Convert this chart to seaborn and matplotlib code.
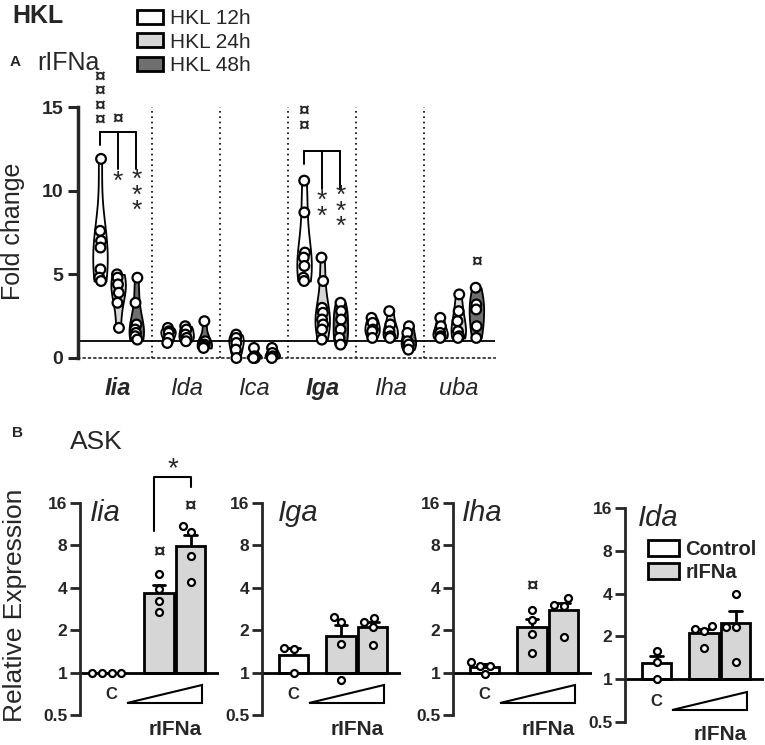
import numpy as np
import pandas as pd
import matplotlib
matplotlib.use("Agg")
import matplotlib.pyplot as plt
from matplotlib.patches import Patch
import seaborn as sns

# ---- panel A: fold change (HKL stimulation, rIFNa) ----
genes_a = ["Iia", "Ida", "Ica", "Iga", "Iha", "uba"]
times = ["HKL 12h", "HKL 24h", "HKL 48h"]
time_colors = ["#ffffff", "#d6d6d6", "#6f6f6f"]

iia_12 = [11.9, 7.6, 7.0, 6.6, 5.3, 4.8, 4.6]
iia_24 = [5.0, 4.8, 4.4, 3.9, 3.3, 1.8]
iia_48 = [4.8, 3.3, 2.0, 1.7, 1.5, 1.3, 1.1]
ida_12 = [1.8, 1.6, 1.5, 1.2, 0.9]
ida_24 = [1.9, 1.7, 1.4, 1.2, 1.0]
ida_48 = [2.2, 1.0, 0.8, 0.7, 0.6]
ica_12 = [1.4, 1.2, 0.9, 0.5, 0.0]
ica_24 = [0.6, 0.1, 0.0, 0.0]
ica_48 = [0.6, 0.3, 0.1, 0.0]
iga_12 = [10.6, 8.7, 6.3, 6.0, 5.5, 4.8, 4.6]
iga_24 = [6.0, 4.6, 3.0, 2.7, 2.3, 2.0, 1.7, 1.1]
iga_48 = [3.3, 2.8, 2.3, 1.7, 1.2, 0.8]
iha_12 = [2.4, 2.1, 1.7, 1.6, 1.2]
iha_24 = [2.8, 2.0, 1.6, 1.3, 1.2]
iha_48 = [1.9, 1.5, 1.0, 0.8, 0.5]
uba_12 = [2.4, 1.9, 1.5, 1.3, 1.2]
uba_24 = [3.8, 2.8, 2.2, 1.6, 1.3, 1.2]
uba_48 = [4.2, 3.2, 2.9, 1.9, 1.2]

series_a = {
    "Iia": [iia_12, iia_24, iia_48],
    "Ida": [ida_12, ida_24, ida_48],
    "Ica": [ica_12, ica_24, ica_48],
    "Iga": [iga_12, iga_24, iga_48],
    "Iha": [iha_12, iha_24, iha_48],
    "uba": [uba_12, uba_24, uba_48],
}

# ---- panel B: relative expression in ASK cells ----
genes_b = ["Iia", "Iga", "Iha", "Ida"]
dose_pos = [0, 0.75, 1.25]   # control, low rIFNa, high rIFNa
iia_b = [[1.0, 1.0, 1.0, 1.0], [5.0, 3.9, 3.2, 2.7], [10.9, 9.9, 6.7, 4.4]]
iga_b = [[1.5, 1.48, 1.0], [2.5, 2.27, 1.6, 0.89], [2.46, 2.27, 2.12, 1.56]]
iha_b = [[1.12, 1.18, 1.12, 0.98], [2.77, 2.38, 1.89, 1.37], [3.36, 3.0, 2.95, 1.78]]
ida_b = [[1.57, 1.32, 1.0], [2.36, 2.25, 2.18, 1.65], [3.97, 2.33, 2.33, 1.32]]
series_b = {"Iia": iia_b, "Iga": iga_b, "Iha": iha_b, "Ida": ida_b}
ticks_b = [0.5, 1, 2, 4, 8, 16]
tick_labels_b = ["0.5", "1", "2", "4", "8", "16"]

sns.set_style("ticks")
plt.rcParams["font.family"] = ["Liberation Sans", "DejaVu Sans"]

W, H = 765, 745
fig = plt.figure(figsize=(W / 100, H / 100), dpi=100)


def fx(px):
    return px / W


def fy(py):
    return 1 - py / H


# ================= Panel A =================
rows = []
for g in genes_a:
    for t, vals in zip(times, series_a[g]):
        for v in vals:
            rows.append({"gene": g, "time": t, "fold": v})
df_a = pd.DataFrame(rows)

axA = fig.add_axes([fx(78), fy(358), fx(495 - 78), (358 - 107) / H])
sns.violinplot(data=df_a, x="gene", y="fold", hue="time", order=genes_a,
               hue_order=times, palette=time_colors, cut=0, inner=None,
               width=0.8, gap=0.2, density_norm="width", linewidth=1.3,
               linecolor="black", saturation=1, legend=False, ax=axA)
np.random.seed(4)
sns.stripplot(data=df_a, x="gene", y="fold", hue="time", order=genes_a,
              hue_order=times, palette=["white"] * 3, dodge=True, jitter=0.05,
              size=7, linewidth=1.6, edgecolor="black", legend=False, ax=axA)
for c in axA.collections:
    c.set_clip_on(False)

axA.set_xlim(-0.59, 5.54)
axA.set_ylim(0, 15)
axA.set_yticks([0, 5, 10, 15])
axA.set_xlabel("")
axA.set_ylabel("")
for s in ["top", "right"]:
    axA.spines[s].set_visible(False)
axA.spines["left"].set_linewidth(2.5)
axA.spines["bottom"].set_linewidth(1.2)
axA.spines["bottom"].set_linestyle((0, (1, 2.2)))
axA.tick_params(axis="y", length=7, width=2.2, labelsize=14)
axA.tick_params(axis="x", length=0, labelsize=17, pad=14)
for lab in axA.get_yticklabels():
    lab.set_fontweight("bold")
for lab in axA.get_xticklabels():
    lab.set_fontstyle("italic")
    if lab.get_text() in ("Iia", "Iga"):
        lab.set_fontweight("bold")
axA.axhline(1, color="black", lw=1.3, zorder=1.5)
for i in range(len(genes_a) - 1):
    axA.plot([i + 0.5, i + 0.5], [0, 15], color="black", lw=1.2,
             ls=(0, (1, 2.2)), zorder=0.5)

off = 0.267
# brackets and significance marks
for g0, top, legs, mid_txt, right_txt, ytxt in [
        (0, 13.5, (12.7, 11.3, 11.3), "*", "*\n*\n*", (10.5, 9.7)),
        (3, 12.4, (11.6, 10.1, 10.1), "*\n*", "*\n*\n*", (8.9, 8.75))]:
    xs = [g0 - off, g0, g0 + off]
    axA.plot([xs[0], xs[2]], [top, top], color="black", lw=1.4, clip_on=False)
    for xx, lb in zip(xs, legs):
        axA.plot([xx, xx], [top, lb], color="black", lw=1.4, clip_on=False)
    axA.text(xs[1], ytxt[0], mid_txt, ha="center", va="center", fontsize=19,
             linespacing=0.55)
    axA.text(xs[2], ytxt[1], right_txt, ha="center", va="center", fontsize=19,
             linespacing=0.55)
axA.text(-off, 15.45, "¤\n¤\n¤\n¤", ha="center", va="center", fontsize=14,
         linespacing=0.8, fontweight="bold", clip_on=False)
axA.text(0, 14.2, "¤", ha="center", va="center", fontsize=14,
         fontweight="bold")
axA.text(3 - off, 14.25, "¤\n¤", ha="center", va="center", fontsize=14,
         linespacing=0.8, fontweight="bold")
axA.text(5 + off, 5.7, "¤", ha="center", va="center", fontsize=14,
         fontweight="bold")

fig.text(fx(13), fy(231), "Fold change", rotation=90, ha="center",
         va="center", fontsize=18)
fig.text(fx(12), fy(16), "HKL", fontsize=18, fontweight="bold", va="center")
fig.text(fx(10), fy(62), "A", fontsize=11, fontweight="bold", va="center")
fig.text(fx(37), fy(63), "rIFNa", fontsize=18, va="center")

handles_a = [Patch(facecolor=c, edgecolor="black", linewidth=2)
             for c in time_colors]
fig.legend(handles_a, times, loc="upper left", bbox_to_anchor=(fx(137), fy(9)),
           frameon=False, fontsize=15, handlelength=1.25, handleheight=0.65,
           labelspacing=0.22, handletextpad=0.35, borderaxespad=0,
           borderpad=0)

# ================= Panel B =================
fig.text(fx(12), fy(433), "B", fontsize=11, fontweight="bold", va="center")
fig.text(fx(70), fy(442), "ASK", fontsize=19, va="center")
fig.text(fx(15), fy(605), "Relative Expression", rotation=90, ha="center",
         va="center", fontsize=19)

lefts = [80, 262, 453, 625]
tops = [503, 503, 503, 508]
bottoms = [715, 715, 715, 722]
label_x = [0.07, 0.115, 0.065, 0.09]
name_y = [0.395, 0.395, 0.395, 0.41]
conds = ["Control", "rIFNa", "rIFNa"]
cond_colors = {"Control": "#ffffff", "rIFNa": "#d6d6d6"}

for k, g in enumerate(genes_b):
    rows = []
    for pos, cond, vals in zip(dose_pos, conds, series_b[g]):
        for v in vals:
            rows.append({"pos": pos, "cond": cond, "expr": v})
    df_b = pd.DataFrame(rows)

    ax = fig.add_axes([fx(lefts[k]), fy(bottoms[k]), fx(139),
                       (bottoms[k] - tops[k]) / H])
    sns.barplot(data=df_b, x="pos", y="expr", hue="cond", palette=cond_colors,
                native_scale=True, width=0.92, errorbar="se", capsize=0.4,
                err_kws={"color": "black", "linewidth": 2, "zorder": 1.5},
                edgecolor="black", linewidth=2, saturation=1, zorder=2,
                legend=False, ax=ax)
    # bars start at the baseline 1 (GraphPad style)
    for p in ax.patches:
        top = p.get_height()
        p.set_y(1)
        p.set_height(top - 1)
    # one swarm per group so the control swarm has room to spread
    for pos in dose_pos:
        sns.swarmplot(data=df_b[df_b["pos"] == pos], x="pos", y="expr",
                      native_scale=True, color="white", edgecolor="black",
                      linewidth=1.6, size=5, zorder=3, ax=ax)
    for c in ax.collections:
        c.set_clip_on(False)
    ax.set_yscale("log", base=2)
    ax.set_ylim(0.5, 16)
    ax.set_xlim(-0.5, 1.7)
    ax.set_yticks(ticks_b)
    ax.set_yticklabels(tick_labels_b)
    ax.minorticks_off()
    ax.set_xticks([])
    ax.set_xlabel("")
    ax.set_ylabel("")
    for s in ["top", "right", "bottom"]:
        ax.spines[s].set_visible(False)
    ax.spines["left"].set_linewidth(2)
    ax.tick_params(axis="y", length=7, width=2, labelsize=12.5, pad=2)
    for lab in ax.get_yticklabels():
        lab.set_fontweight("bold")
    ax.axhline(1, color="black", lw=2, zorder=2.5)

    ax.text(label_x[k], 0.955, g, transform=ax.transAxes, fontsize=21,
            style="italic", va="center")
    ax.text(0, 0.70, "C", ha="center", va="center", fontsize=12,
            fontweight="bold")
    ax.fill([0.25, 1.425, 1.425], [0.61, 0.61, 0.81], facecolor="white",
            edgecolor="black", lw=1.5, clip_on=False)
    ax.text(1.0, name_y[k], "rIFNa", ha="center", va="center", fontsize=15,
            fontweight="bold")

    if g == "Iia":
        ax.plot([0.675, 0.675, 1.25, 1.25], [10.1, 24.4, 24.4, 20.7],
                color="black", lw=1.5, clip_on=False)
        ax.text(0.975, 28.0, "*", ha="center", va="center", fontsize=20)
        ax.text(0.75, 7.1, "¤", ha="center", va="center", fontsize=15,
                fontweight="bold")
        ax.text(1.25, 15.0, "¤", ha="center", va="center", fontsize=15,
                fontweight="bold")
    if g == "Iha":
        ax.text(0.75, 4.1, "¤", ha="center", va="center", fontsize=15,
                fontweight="bold")
    if g == "Ida":
        handles_b = [Patch(facecolor=cond_colors[c], edgecolor="black",
                           linewidth=2) for c in ["Control", "rIFNa"]]
        leg = ax.legend(handles_b, ["Control", "rIFNa"], loc="upper left",
                        bbox_to_anchor=(0.165, 0.85), frameon=False,
                        fontsize=14.5, handlelength=1.55, handleheight=0.8,
                        labelspacing=0.2, handletextpad=0.3, borderaxespad=0,
                        borderpad=0)
        for t in leg.get_texts():
            t.set_fontweight("bold")

fig.savefig("out.png", dpi=100)
